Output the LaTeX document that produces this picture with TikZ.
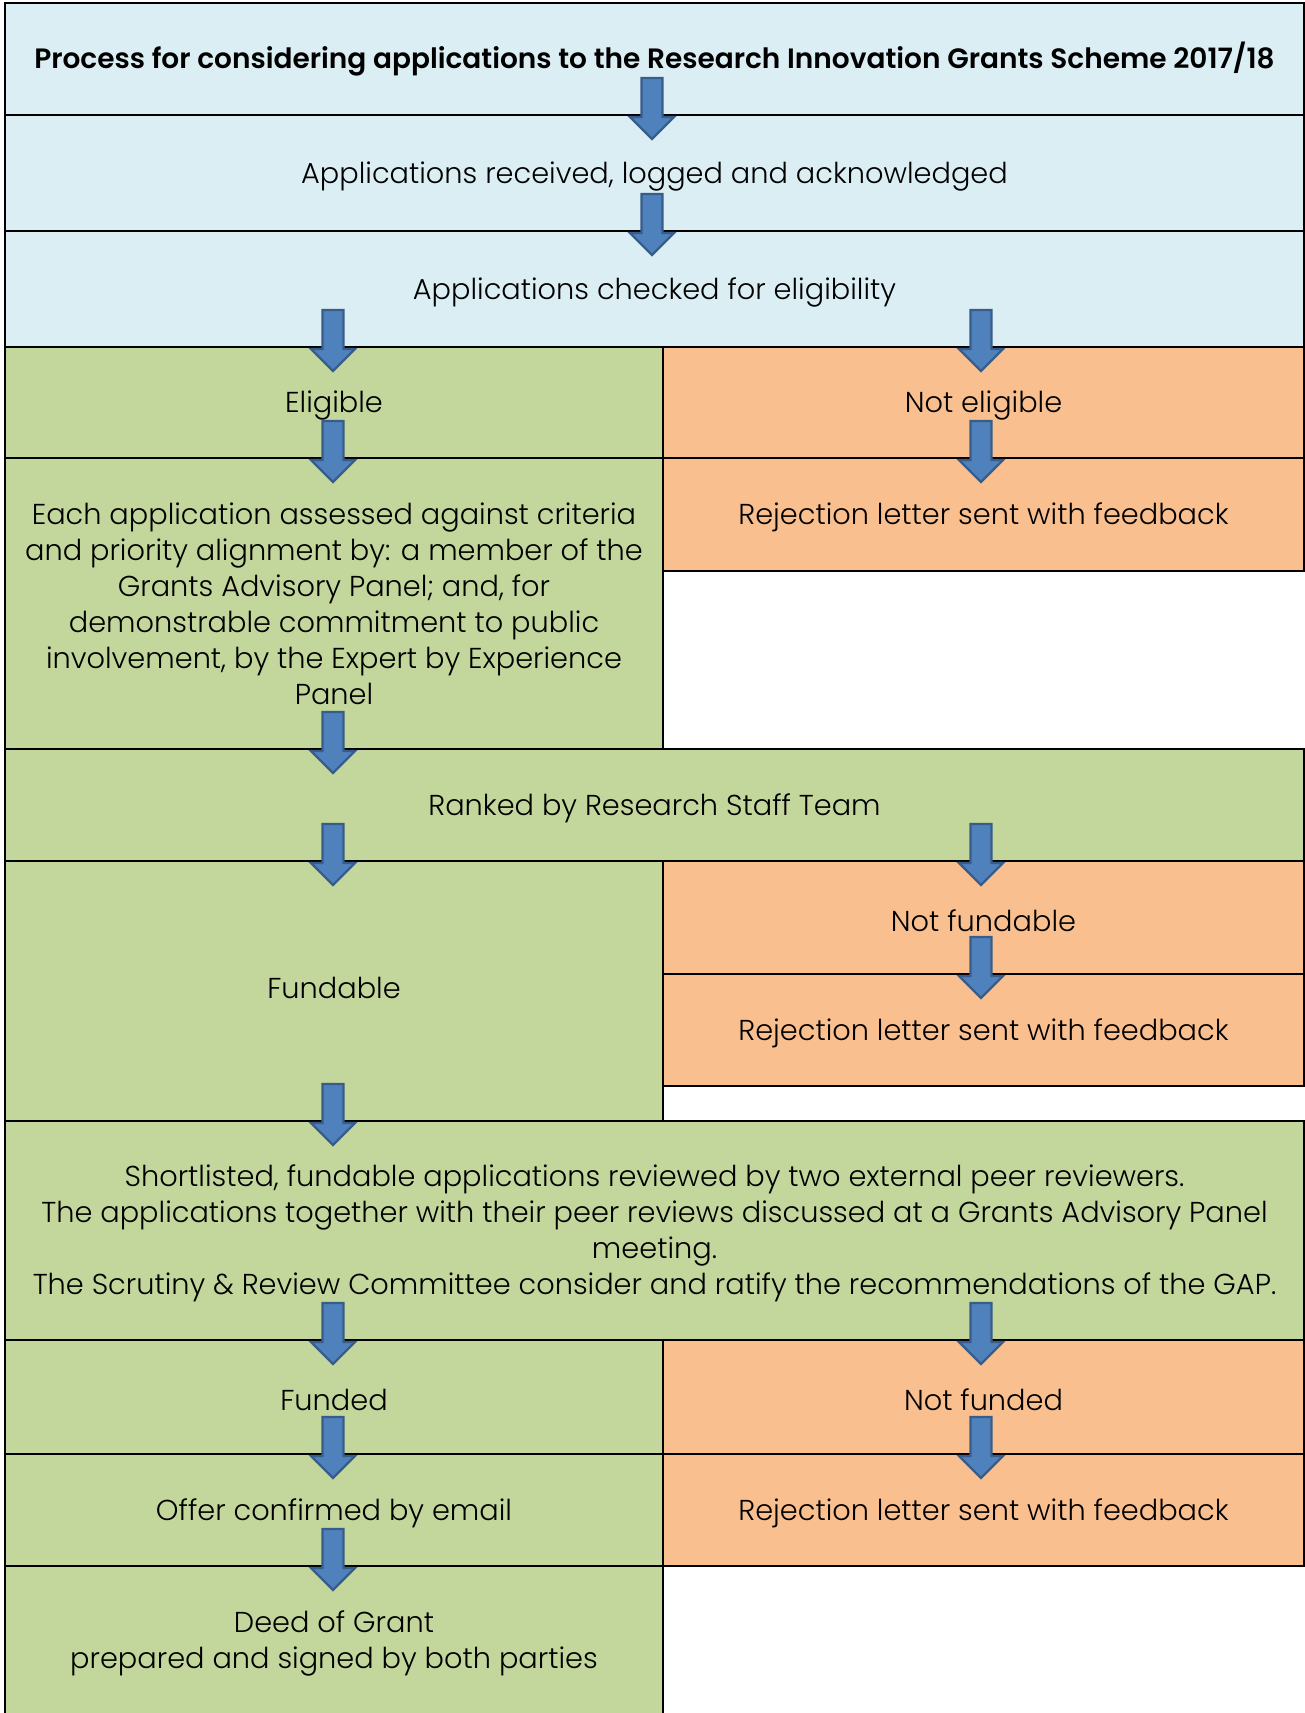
\documentclass[tikz,border=0pt]{standalone}
\usepackage{fontspec}
\IfFontExistsTF{Poppins Light}
  {\setmainfont{Poppins Light}[BoldFont={Poppins SemiBold}]}
  {\setmainfont{Poppins}}
\usepackage{tikz}
\definecolor{lblue}{RGB}{219,238,244}
\definecolor{lgreen}{RGB}{195,214,155}
\definecolor{lorange}{RGB}{250,191,143}
\definecolor{abody}{RGB}{79,129,189}
\definecolor{aedge}{RGB}{56,93,138}

\begin{document}
\begin{tikzpicture}[x=0.5pt,y=-0.5pt,line width=1pt,font=\fontsize{14.4}{18}\selectfont]
  \tikzstyle{cell}=[draw=black,anchor=north west,align=center,inner sep=0pt]
  \tikzstyle{lift}=[execute at begin node={\rule{0pt}{13.9pt}}]
  \tikzstyle{wide}=[cell,minimum width=649.5pt]
  \tikzstyle{lcol}=[cell,minimum width=329pt]
  \tikzstyle{rcol}=[cell,minimum width=320.5pt]
  \tikzstyle{bluecell}=[fill=lblue]
  \tikzstyle{greencell}=[fill=lgreen]
  \tikzstyle{orangecell}=[fill=lorange]
  \tikzstyle{barrow}=[fill=abody,draw=aedge,line width=1.2pt,line join=miter]
  \useasboundingbox (0,0) rectangle (1305,1713);
  % columns for the arrows
  \coordinate (L) at (333,0);
  \coordinate (M) at (652,0);
  \coordinate (R) at (981,0);
  % top part
  \node[wide,bluecell,minimum height=56pt] (title) at (4,2) {\fontsize{14}{18}\selectfont\bfseries Process for considering applications to the Research Innovation Grants Scheme 2017/18};
  \node[wide,lift,bluecell,minimum height=58pt] (recv) at (4,114) {Applications received, logged and acknowledged};
  \node[wide,lift,bluecell,minimum height=58pt] (check) at (4,230) {Applications checked for eligibility};
  % eligibility
  \node[lcol,lift,greencell,minimum height=55.5pt] (elig) at (4,346) {Eligible};
  \node[rcol,lift,orangecell,minimum height=55.5pt] (nelig) at (662,346) {Not eligible};
  \node[lcol,greencell,minimum height=145.5pt] (assess) at (4,457) {Each application assessed against criteria\\and priority alignment by: a member of the\\Grants Advisory Panel; and, for\\demonstrable commitment to public\\involvement, by the Expert by Experience\\Panel};
  \node[rcol,lift,orangecell,minimum height=56.5pt] (rejA) at (662,457) {Rejection letter sent with feedback};
  % ranking
  \node[wide,lift,greencell,minimum height=56pt] (ranked) at (4,748) {Ranked by Research Staff Team};
  \node[lcol,greencell,minimum height=130pt] (fund) at (4,860) {Fundable\rule[-3.3pt]{0pt}{0pt}};
  \node[rcol,lift,orangecell,minimum height=56.5pt] (nfund) at (662,860) {Not fundable};
  \node[rcol,lift,orangecell,minimum height=56pt] (rejB) at (662,973) {Rejection letter sent with feedback};
  % review
  \node[wide,greencell,minimum height=109.5pt] (review) at (4,1120) {\rule{0pt}{14pt}Shortlisted, fundable applications reviewed by two external peer reviewers.\\The applications together with their peer reviews discussed at a Grants Advisory Panel\\meeting.\\The Scrutiny \& Review Committee consider and ratify the recommendations of the GAP.};
  \node[lcol,lift,greencell,minimum height=57pt] (funded) at (4,1339) {Funded};
  \node[rcol,lift,orangecell,minimum height=57pt] (nfunded) at (662,1339) {Not funded};
  \node[lcol,lift,greencell,minimum height=56pt] (offer) at (4,1453) {Offer confirmed by email};
  \node[rcol,lift,orangecell,minimum height=56pt] (rejC) at (662,1453) {Rejection letter sent with feedback};
  \node[lcol,greencell,minimum height=75pt] (deed) at (4,1565) {\rule{0pt}{13pt}Deed of Grant\\prepared and signed by both parties};
  % block arrows
  \foreach \s/\c in {title/M,recv/M,check/L,check/R,elig/L,nelig/R,assess/L,ranked/L,ranked/R,nfund/R,fund/L,review/L,review/R,funded/L,nfunded/R,offer/L}
    \filldraw[barrow] (\s.south -| \c) ++(-10.5,-38) -- ++(21,0) -- ++(0,39) -- ++(11.5,0) -- ++(-22,22) -- ++(-22,-22) -- ++(11.5,0) -- cycle;
\end{tikzpicture}
\end{document}
